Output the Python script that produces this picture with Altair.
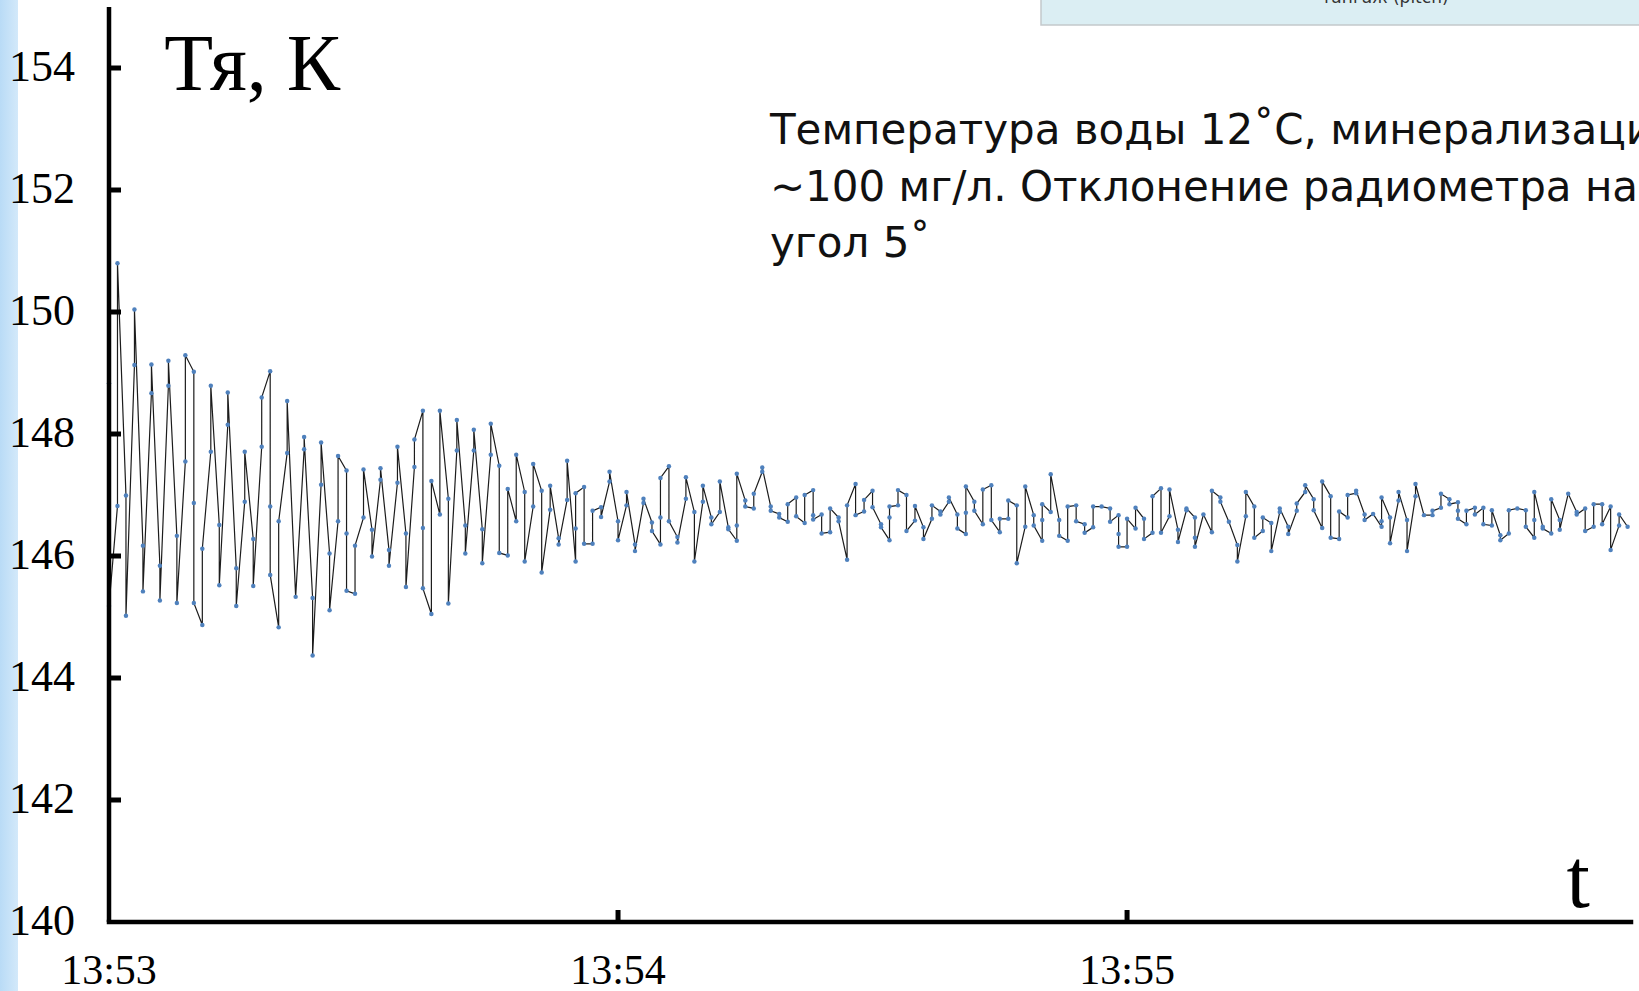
import altair as alt
import pandas as pd

# Radiometer brightness temperature (K); one list per second after 13:53:00,
# readings inside a second in recording order.
readings = [
    [148.83, 145.18], [146.82, 150.80], [146.99, 145.02], [149.13, 150.04],
    [146.17, 145.42], [148.67, 149.14], [145.84, 145.27], [148.79, 149.20],
    [146.33, 145.23], [147.55, 149.29], [149.02, 146.87, 145.23], [144.87, 146.12],
    [147.71, 148.79], [146.51, 145.52], [148.15, 148.68], [145.80, 145.18],
    [146.89, 147.71], [146.28, 145.51], [147.79, 148.60], [149.03, 146.81, 145.69],
    [144.83, 146.57], [147.69, 148.54], [145.33], [147.75, 147.95],
    [145.31, 144.37], [147.17, 147.86], [146.04, 145.11], [146.57, 147.64],
    [147.40, 146.37, 145.43], [145.38, 146.17], [146.63, 147.42], [146.43, 145.99],
    [147.25, 147.44], [146.10, 145.84], [147.20, 147.79], [146.37, 145.49],
    [147.46, 147.91], [148.38, 146.46, 145.47], [145.05, 147.23], [146.68, 148.38],
    [146.94, 145.22], [147.73, 148.23], [146.50, 146.04], [147.73, 148.07],
    [146.44, 145.88], [147.66, 148.17], [147.48, 146.05], [146.01, 147.10],
    [146.57, 147.66], [147.05, 145.91], [146.81, 147.51], [147.07, 145.73],
    [146.76, 147.15], [146.29, 146.19], [146.92, 147.56], [145.91, 146.45, 147.03],
    [147.13, 146.20], [146.20, 146.74], [146.80, 146.64], [147.22, 147.38],
    [146.57, 146.26], [146.83, 147.05], [146.19, 146.08], [146.87, 146.94],
    [146.55, 146.41], [146.19, 146.63, 147.28], [147.47, 146.57], [146.31, 146.22],
    [146.94, 147.29], [146.72, 145.91], [146.89, 147.15], [146.63, 146.52],
    [146.72, 147.22], [146.47, 146.44], [146.25, 146.50, 147.35], [146.91, 146.81],
    [146.78, 147.02], [147.38, 147.45], [146.81, 146.74], [146.69, 146.63],
    [146.56, 146.85], [146.96, 146.65], [146.54, 147.00], [147.08, 146.67, 146.60],
    [146.68, 146.37], [146.39, 146.78], [146.63, 146.57], [145.94, 146.83],
    [147.18, 146.67], [146.73, 146.92], [147.07, 146.80], [146.52, 146.47],
    [146.26, 146.63, 146.81], [146.83, 147.08], [147.00, 146.41], [146.58, 146.82],
    [146.47, 146.28], [146.61, 146.83], [146.73, 146.68], [146.89, 146.96],
    [146.68, 146.45], [146.36, 146.71, 147.14], [146.89, 146.74], [146.52, 147.09],
    [147.16, 146.59], [146.39, 146.61], [146.61, 146.91], [146.83, 145.88],
    [146.48, 147.14], [146.67, 146.50], [146.25, 146.59, 146.85], [146.72, 147.34],
    [146.59, 146.33], [146.25, 146.81], [146.83, 146.57], [146.52, 146.38],
    [146.47, 146.81], [146.81], [146.78, 146.56], [146.67, 146.36, 146.15],
    [146.15, 146.61], [146.45, 146.79], [146.61, 146.28], [146.38, 146.98],
    [147.11, 146.38], [146.65, 147.09], [146.43, 146.23], [146.75, 146.78],
    [146.63, 146.30, 146.15], [146.68], [146.39, 147.07], [146.96, 146.89],
    [146.56], [146.18, 145.91], [146.65, 147.05], [146.81, 146.30],
    [146.41, 146.63], [146.54, 146.08], [146.72, 146.78], [146.48, 146.36],
    [146.74, 146.86], [147.05, 147.16], [146.93, 146.75], [146.46, 147.22],
    [146.98, 146.30], [146.28, 146.73], [146.63, 147.00], [147.03, 147.07],
    [146.68, 146.59], [146.69], [146.48, 146.57, 146.96], [146.63, 146.21],
    [146.91, 147.05], [146.59, 146.08], [146.98, 147.18], [146.67],
    [146.67, 146.74], [146.79, 147.02], [146.93, 146.85], [146.88, 146.74, 146.61],
    [146.52, 146.74], [146.79, 146.68], [146.79, 146.52], [146.50, 146.75],
    [146.34, 146.26], [146.37, 146.75], [146.78], [146.75, 146.48],
    [146.30, 146.59, 147.05], [146.48, 146.45], [146.37, 146.93], [146.59, 146.43],
    [147.02], [146.72, 146.68], [146.78, 146.41], [146.48, 146.85],
    [146.85, 146.52], [146.81, 146.10], [146.50, 146.68], [146.48],
]

y_tick_values = [142, 144, 146, 148, 150, 152, 154]
y_label_values = [140, 142, 144, 146, 148, 150, 152, 154]
x_tick_values = [60, 120]
x_label_values = [0, 60, 120]
x_label_texts = ["13:53", "13:54", "13:55"]

note_lines = [
    "Температура воды 12˚С, минерализация",
    "~100 мг/л. Отклонение радиометра на",
    "угол 5˚",
]
note_levels = [152.75, 151.82, 150.90]

rows = []
for sec, vals in enumerate(readings):
    for v in vals:
        rows.append({"sec": sec, "temp": v, "n": len(rows)})
df = pd.DataFrame(rows)

X_MAX = 179.4
x_scale = alt.Scale(domain=[0, X_MAX], nice=False, zero=False)
y_scale = alt.Scale(domain=[140, 155], nice=False, zero=False)

serif = "Liberation Serif"
sans = "DejaVu Sans"
one = pd.DataFrame({"k": [0]})


def xq(field):
    return alt.X(field, type="quantitative", scale=x_scale, axis=None)


def yq(field):
    return alt.Y(field, type="quantitative", scale=y_scale, axis=None)


# slide decorations: light-blue side strip and the panel edge at the top
strip = alt.Chart(one).mark_rect(
    color=alt.LinearGradient(
        gradient="linear",
        stops=[
            alt.GradientStop(color="#b9dbf6", offset=0),
            alt.GradientStop(color="#d3e9fa", offset=1),
        ],
        x1=0, x2=1, y1=0, y2=0,
    )
).encode(
    x=alt.value(-109), x2=alt.value(-91), y=alt.value(-7), y2=alt.value(990)
)

panel = alt.Chart(one).mark_rect(
    fill="#dbeef3", stroke="#c3c9cc", strokeWidth=1.5
).encode(
    x=alt.value(932), x2=alt.value(1560), y=alt.value(-20), y2=alt.value(18)
)

panel_text = alt.Chart(one).mark_text(
    text="тангаж (pitch)", font=sans, fontSize=17, align="center",
    baseline="alphabetic", color="#333333"
).encode(x=alt.value(1276), y=alt.value(-4))

base = alt.Chart(df)

line = base.mark_line(color="#1c1c1c", strokeWidth=1.2).encode(
    x=xq("sec"), y=yq("temp"), order="n:Q"
)

points = base.mark_circle(color="#4f81bd", opacity=1, size=20).encode(
    x=xq("sec"), y=yq("temp")
)

# axis lines
y_axis_line = alt.Chart(one).mark_rule(color="black", strokeWidth=4.5).encode(
    x=alt.XDatum(0, scale=x_scale, axis=None),
    y=alt.YDatum(155, scale=y_scale, axis=None),
    y2=alt.YDatum(140),
)
x_axis_line = alt.Chart(one).mark_rule(
    color="black", strokeWidth=4.5, strokeCap="square"
).encode(
    y=alt.YDatum(140, scale=y_scale, axis=None),
    x=alt.XDatum(0, scale=x_scale, axis=None),
    x2=alt.XDatum(X_MAX),
)

# inward tick marks on both axes
y_ticks = alt.Chart(pd.DataFrame({"v": y_tick_values})).mark_rule(
    color="black", strokeWidth=5
).encode(x=alt.value(0), x2=alt.value(12), y=yq("v"))

x_ticks = alt.Chart(pd.DataFrame({"v": x_tick_values})).mark_rule(
    color="black", strokeWidth=5
).encode(x=xq("v"), y=alt.value(915), y2=alt.value(903))

# tick labels
y_labels = alt.Chart(pd.DataFrame({"v": y_label_values})).mark_text(
    font=serif, fontSize=44, align="right", baseline="middle", color="black"
).encode(y=yq("v"), x=alt.value(-34), text=alt.Text("v:Q", format="d"))

x_labels = alt.Chart(
    pd.DataFrame({"v": x_label_values, "lab": x_label_texts})
).mark_text(
    font=serif, fontSize=42, align="center", baseline="alphabetic", color="black"
).encode(x=xq("v"), y=alt.value(977), text="lab:N")

y_title = alt.Chart(one).mark_text(
    text="Тя, К", font=serif, fontSize=80, align="left", baseline="alphabetic", color="black"
).encode(
    x=alt.XDatum(6.5, scale=x_scale, axis=None),
    y=alt.YDatum(153.64, scale=y_scale, axis=None),
)

x_title = alt.Chart(one).mark_text(
    text="t", font=serif, fontSize=84, align="left", baseline="alphabetic", color="black"
).encode(
    x=alt.XDatum(171.8, scale=x_scale, axis=None),
    y=alt.YDatum(140.25, scale=y_scale, axis=None),
)

note_layers = [
    alt.Chart(one).mark_text(
        text=txt, font=sans, fontSize=42, align="left", baseline="alphabetic", color="#111111"
    ).encode(
        x=alt.XDatum(77.9, scale=x_scale, axis=None),
        y=alt.YDatum(lvl, scale=y_scale, axis=None),
    )
    for txt, lvl in zip(note_lines, note_levels)
]

chart = alt.layer(
    strip, panel, panel_text, line, points, y_axis_line, x_axis_line, y_ticks, x_ticks,
    y_labels, x_labels, y_title, x_title, *note_layers
).properties(
    width=1522,
    height=915,
    autosize=alt.AutoSizeParams(type="none"),
    padding={"left": 109, "top": 7, "right": 8, "bottom": 69},
    background="white",
).configure_view(stroke=None)

chart.save("out.html", embed_options={"renderer": "svg", "actions": False})
